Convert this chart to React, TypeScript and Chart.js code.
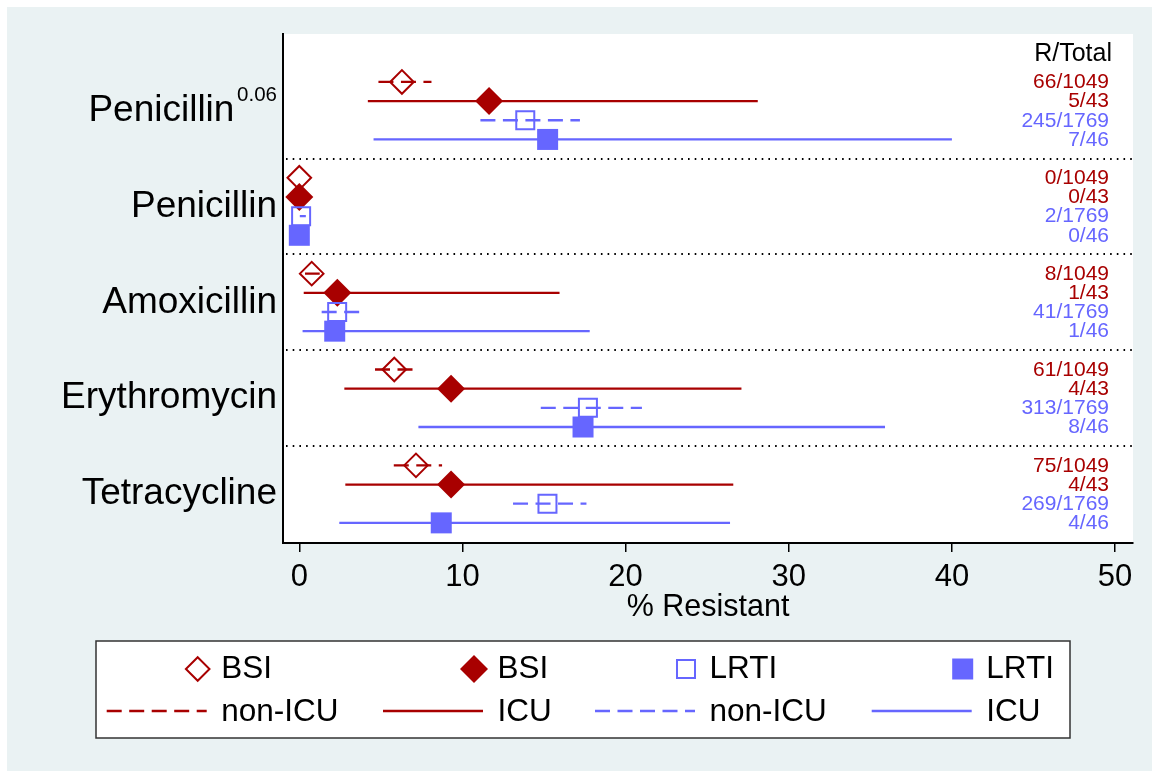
import React, { useEffect, useRef } from 'react';
import { Chart, registerables } from 'chart.js';

Chart.register(...registerables);

const FONT = '"Liberation Sans", Arial, Helvetica, sans-serif';
const RED = '#A80000';
const BLUE = '#6666FF';
const BG = '#EAF2F3';

// ---- data ----
const categories = ['Penicillin', 'Penicillin', 'Amoxicillin', 'Erythromycin', 'Tetracycline'];
const categorySuperscripts = ['0.06', '', '', '', ''];
const xTickValues = [0, 10, 20, 30, 40, 50];
const xTitle = '% Resistant';
const countsHeader = 'R/Total';

const seriesNames = ['BSI', 'BSI', 'LRTI', 'LRTI'];
const settingNames = ['non-ICU', 'ICU', 'non-ICU', 'ICU'];

const bsiNonIcuPct = [6.29, 0, 0.76, 5.82, 7.15];
const bsiNonIcuLo = [4.85, 0, 0.35, 4.64, 5.79];
const bsiNonIcuHi = [8.1, 0, 1.25, 6.95, 8.75];
const bsiNonIcuCounts = ['66/1049', '0/1049', '8/1049', '61/1049', '75/1049'];

const bsiIcuPct = [11.63, 0, 2.33, 9.3, 9.3];
const bsiIcuLo = [4.2, 0, 0.27, 2.76, 2.82];
const bsiIcuHi = [28.1, 0, 15.95, 27.1, 26.6];
const bsiIcuCounts = ['5/43', '0/43', '1/43', '4/43', '4/43'];

const lrtiNonIcuPct = [13.85, 0.11, 2.32, 17.69, 15.21];
const lrtiNonIcuLo = [11.1, 0.03, 1.37, 14.8, 13.1];
const lrtiNonIcuHi = [17.2, 0.4, 3.68, 21.0, 17.6];
const lrtiNonIcuCounts = ['245/1769', '2/1769', '41/1769', '313/1769', '269/1769'];

const lrtiIcuPct = [15.22, 0, 2.17, 17.39, 8.7];
const lrtiIcuLo = [4.55, 0, 0.2, 7.3, 2.45];
const lrtiIcuHi = [40.0, 0, 17.8, 35.9, 26.4];
const lrtiIcuCounts = ['7/46', '0/46', '1/46', '8/46', '4/46'];

const ROWS_PER_GROUP = 5;

type Series = {
  pct: number[]; lo: number[]; hi: number[]; counts: string[];
  color: string; dashed: boolean; filled: boolean; shape: 'diamond' | 'square';
};

const series: Series[] = [
  { pct: bsiNonIcuPct, lo: bsiNonIcuLo, hi: bsiNonIcuHi, counts: bsiNonIcuCounts, color: RED, dashed: true, filled: false, shape: 'diamond' },
  { pct: bsiIcuPct, lo: bsiIcuLo, hi: bsiIcuHi, counts: bsiIcuCounts, color: RED, dashed: false, filled: true, shape: 'diamond' },
  { pct: lrtiNonIcuPct, lo: lrtiNonIcuLo, hi: lrtiNonIcuHi, counts: lrtiNonIcuCounts, color: BLUE, dashed: true, filled: false, shape: 'square' },
  { pct: lrtiIcuPct, lo: lrtiIcuLo, hi: lrtiIcuHi, counts: lrtiIcuCounts, color: BLUE, dashed: false, filled: true, shape: 'square' },
];

const DASH = [15, 7.5];
const LINE_W = 2.3;

function markerRadius(s: Series) {
  if (s.shape === 'diamond') return s.filled ? 14 : 11.8;
  return s.filled ? 14.85 : 12.73;
}

function drawMarker(ctx: CanvasRenderingContext2D, s: Series, x: number, y: number) {
  ctx.save();
  ctx.beginPath();
  if (s.shape === 'diamond') {
    const r = markerRadius(s);
    ctx.moveTo(x, y - r); ctx.lineTo(x + r, y); ctx.lineTo(x, y + r); ctx.lineTo(x - r, y); ctx.closePath();
  } else {
    const h = markerRadius(s) * Math.SQRT1_2;
    ctx.rect(x - h, y - h, 2 * h, 2 * h);
  }
  if (s.filled) { ctx.fillStyle = s.color; ctx.fill(); }
  else { ctx.strokeStyle = s.color; ctx.lineWidth = 2; ctx.stroke(); }
  ctx.restore();
}

export default function App() {
  const ref = useRef<HTMLCanvasElement>(null);

  useEffect(() => {
    const canvas = ref.current;
    if (!canvas) return;

    const datasets: any[] = [];
    series.forEach((s, si) => {
      const lineData: any[] = [];
      categories.forEach((_, g) => {
        const yv = g * ROWS_PER_GROUP + si;
        lineData.push({ x: s.lo[g], y: yv }, { x: s.hi[g], y: yv }, { x: s.hi[g], y: null });
      });
      datasets.push({
        type: 'line',
        label: seriesNames[si] + ' ' + settingNames[si] + ' CI',
        data: lineData,
        borderColor: s.color,
        borderWidth: LINE_W,
        borderDash: s.dashed ? DASH : [],
        pointRadius: 0,
        pointHoverRadius: 0,
        spanGaps: false,
        fill: false,
        tension: 0,
        order: (3 - si) * 2 + 1,
      });
      datasets.push({
        type: 'line',
        label: seriesNames[si] + ' ' + settingNames[si],
        data: categories.map((_, g) => ({ x: s.pct[g], y: g * ROWS_PER_GROUP + si })),
        showLine: false,
        pointStyle: s.shape === 'diamond' ? 'rectRot' : 'rect',
        pointRadius: markerRadius(s),
        pointHoverRadius: markerRadius(s),
        pointBackgroundColor: s.filled ? s.color : 'rgba(0,0,0,0)',
        pointBorderColor: s.color,
        pointBorderWidth: s.filled ? 0 : 2,
        order: (3 - si) * 2,
      });
    });

    const decor = {
      id: 'decor',
      beforeDraw(chart: any) {
        const { ctx, chartArea: a } = chart;
        ctx.save();
        ctx.fillStyle = BG;
        ctx.fillRect(0, 0, chart.width, chart.height);
        ctx.fillStyle = '#FFFFFF';
        ctx.fillRect(a.left, a.top, a.right - a.left, a.bottom - a.top);
        ctx.restore();
      },
      beforeDatasetsDraw(chart: any) {
        const { ctx, chartArea: a } = chart;
        const yS = chart.scales.y;
        ctx.save();
        ctx.strokeStyle = '#000';
        ctx.lineWidth = 2;
        ctx.setLineDash([1.6, 5.1]);
        for (let g = 0; g < categories.length - 1; g++) {
          const y = Math.round(yS.getPixelForValue(g * ROWS_PER_GROUP + 4));
          ctx.beginPath();
          ctx.moveTo(a.left + 3, y);
          ctx.lineTo(a.right, y);
          ctx.stroke();
        }
        ctx.restore();
      },
      afterDraw(chart: any) {
        const { ctx } = chart;
        const yS = chart.scales.y;
        ctx.save();
        ctx.textBaseline = 'middle';

        // category labels
        categories.forEach((c, g) => {
          const y = yS.getPixelForValue(g * ROWS_PER_GROUP + 1.5);
          let right = 270;
          const sup = categorySuperscripts[g];
          if (sup) {
            ctx.font = `20.5px ${FONT}`;
            const w = ctx.measureText(sup).width;
            ctx.fillStyle = '#000';
            ctx.textAlign = 'right';
            ctx.fillText(sup, right, y - 15.8);
            right = right - w - 2.7;
          }
          ctx.font = `37px ${FONT}`;
          ctx.fillStyle = '#000';
          ctx.textAlign = 'right';
          ctx.fillText(c, right, y);
        });

        // R/Total header and counts
        ctx.textAlign = 'right';
        ctx.font = `25px ${FONT}`;
        ctx.fillStyle = '#000';
        ctx.fillText(countsHeader, 1105, yS.getPixelForValue(-1.45));
        ctx.font = `21px ${FONT}`;
        series.forEach((s, si) => {
          categories.forEach((_, g) => {
            ctx.fillStyle = s.color;
            ctx.fillText(s.counts[g], 1102, yS.getPixelForValue(g * ROWS_PER_GROUP + si) + 0.5);
          });
        });

        // legend box
        const bx = 89, by = 634, bw = 974, bh = 97;
        ctx.fillStyle = '#FFFFFF';
        ctx.fillRect(bx, by, bw, bh);
        ctx.strokeStyle = '#333';
        ctx.lineWidth = 1.5;
        ctx.strokeRect(bx, by, bw, bh);

        const colLeft = [99.7, 376, 588, 864.7];
        const row1 = 662, row2 = 704;
        series.forEach((s, si) => {
          const L = colLeft[si];
          drawMarker(ctx, s, L + 91, row1);
          ctx.save();
          ctx.strokeStyle = s.color;
          ctx.lineWidth = LINE_W;
          ctx.setLineDash(s.dashed ? DASH : []);
          ctx.beginPath();
          ctx.moveTo(L, row2);
          ctx.lineTo(L + 100, row2);
          ctx.stroke();
          ctx.restore();
          ctx.font = `31.5px ${FONT}`;
          ctx.fillStyle = '#000';
          ctx.textAlign = 'left';
          ctx.fillText(seriesNames[si], L + 114.5, row1);
          ctx.fillText(settingNames[si], L + 114.5, row2 + 1.5);
        });
        ctx.restore();
      },
    };

    const chart = new Chart(canvas, {
      type: 'line',
      data: { datasets },
      options: {
        responsive: false,
        animation: false,
        events: [],
        layout: { padding: { left: 276, right: 19, top: 27, bottom: 136 } },
        plugins: {
          legend: { display: false },
          tooltip: { enabled: false },
          title: { display: false },
        },
        scales: {
          x: {
            type: 'linear',
            position: 'bottom',
            min: -1,
            max: 51.1,
            afterBuildTicks: (scale: any) => {
              scale.ticks = xTickValues.map((v) => ({ value: v }));
            },
            afterFit: (scale: any) => {
              scale.height = 92;
            },
            ticks: {
              font: { family: FONT, size: 31 },
              color: '#000',
              padding: 6.4,
              maxRotation: 0,
              minRotation: 0,
              autoSkip: false,
              callback: (v: any) => String(v),
            },
            grid: {
              display: true,
              drawOnChartArea: false,
              drawTicks: true,
              tickLength: 9,
              color: '#000',
              lineWidth: 1.5,
            },
            border: { display: true, color: '#000', width: 2 },
            title: {
              display: true,
              text: xTitle,
              font: { family: FONT, size: 30.5 },
              color: '#000',
              padding: { top: 0, bottom: 9 },
            },
          },
          y: {
            type: 'linear',
            position: 'left',
            min: -2.5,
            max: 24.05,
            reverse: true,
            afterFit: (scale: any) => {
              scale.width = 0;
            },
            ticks: { display: false },
            grid: { display: true, drawOnChartArea: false, drawTicks: false },
            border: { display: true, color: '#000', width: 2 },
          },
        },
      } as any,
      plugins: [decor],
    } as any);

    return () => chart.destroy();
  }, []);

  return (
    <div style={{ position: 'fixed', left: 7, top: 7 }}>
      <canvas ref={ref} width={1145} height={764} style={{ display: 'block' }} />
    </div>
  );
}
